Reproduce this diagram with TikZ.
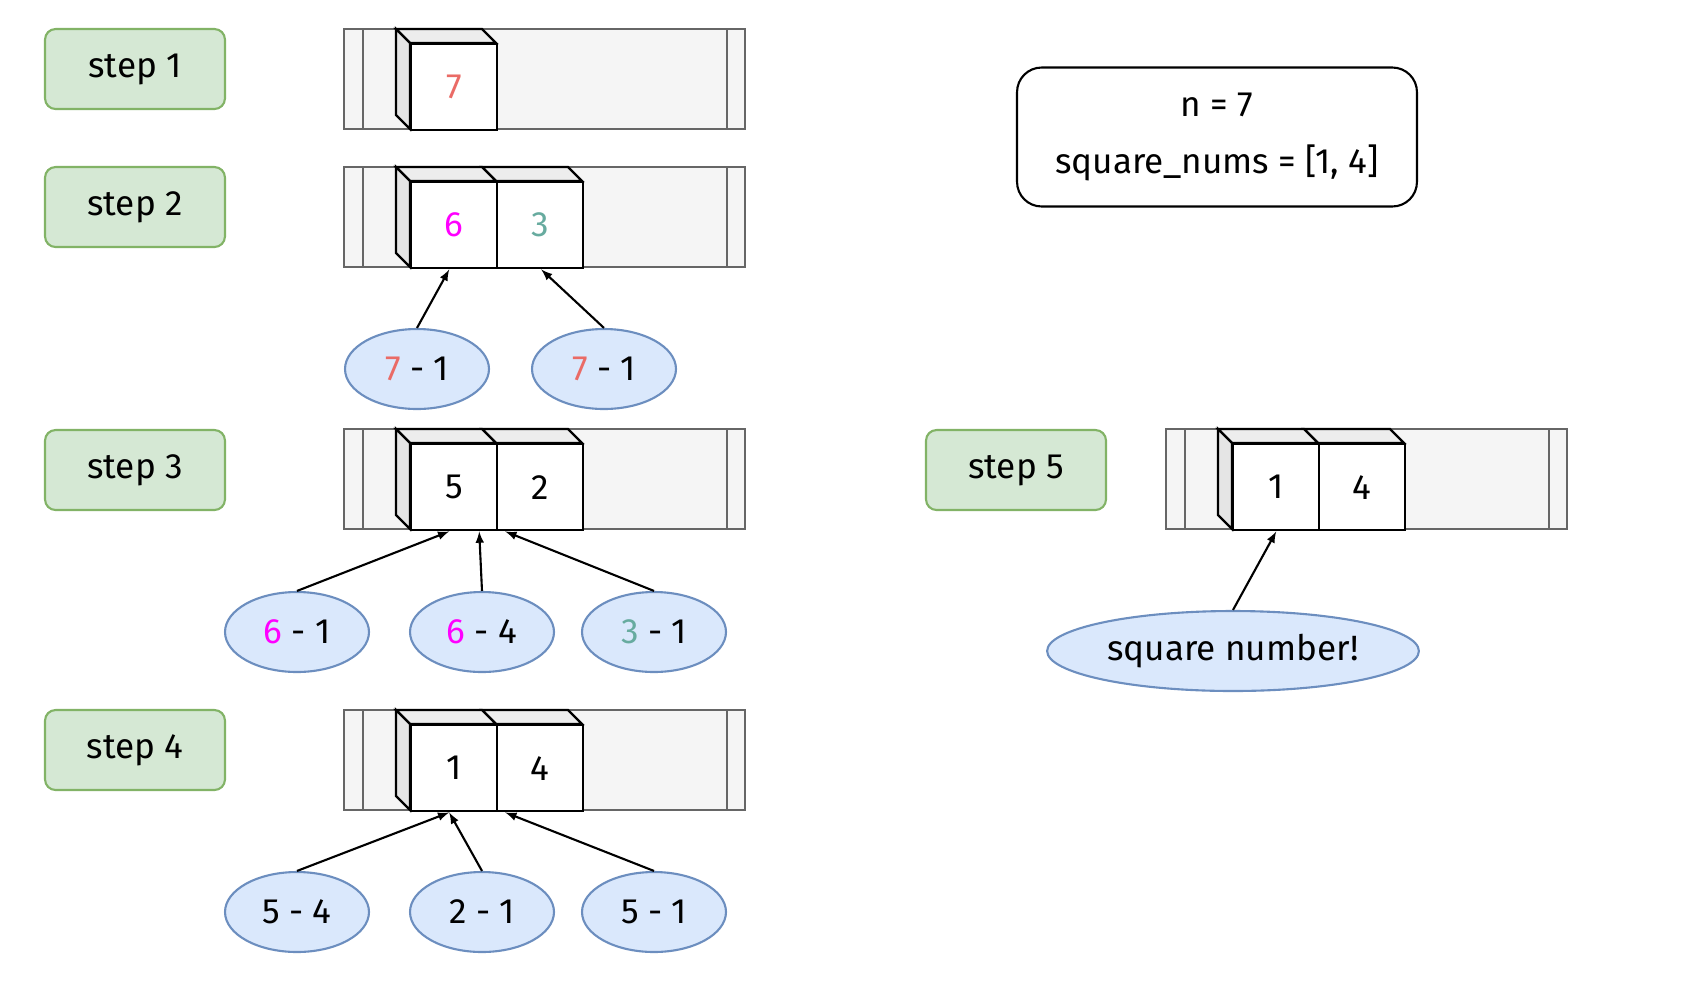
\documentclass[tikz,border=0pt]{standalone}
\usepackage{fontspec}
\setmainfont{Fira Sans}
\usetikzlibrary{shapes.geometric}
\definecolor{stepfill}{HTML}{D5E8D4}
\definecolor{stepdraw}{HTML}{82B366}
\definecolor{ovfill}{HTML}{DAE8FC}
\definecolor{ovdraw}{HTML}{6C8EBF}
\definecolor{barfill}{HTML}{F5F5F5}
\definecolor{bardraw}{HTML}{666666}
\definecolor{cred}{HTML}{EA6B66}
\definecolor{cmag}{HTML}{FF00FF}
\definecolor{cteal}{HTML}{67AB9F}

% bar with two inner lines, top-left at (#1,#2)
\newcommand{\stackbar}[2]{%
  \draw[bardraw, line width=1.2pt, fill=barfill] (#1,#2) rectangle ++(401,100);
  \draw[bardraw, line width=1.2pt] (#1+19,#2) -- ++(0,100) (#1+383,#2) -- ++(0,100);}
% top and side faces of a cube whose front starts at (#1,#2)
\newcommand{\cubeside}[2]{%
  \draw[line width=1.4pt, fill=black!7] (#1-14,#2-14) -- (#1+72,#2-14) -- (#1+86,#2) -- (#1,#2) -- cycle;
  \draw[line width=1.4pt, fill=black!10] (#1-14,#2-14) -- (#1,#2) -- (#1,#2+86) -- (#1-14,#2+72) -- cycle;}
\newcommand{\cubetop}[2]{%
  \draw[line width=1.4pt, fill=black!7] (#1-14,#2-14) -- (#1+72,#2-14) -- (#1+86,#2) -- (#1,#2) -- cycle;}

\begin{document}
\begin{tikzpicture}[x=0.02cm, y=-0.02cm, font=\fontsize{20}{24}\selectfont]

\tikzstyle{steplabel}=[rectangle, rounded corners=6pt, draw=stepdraw, fill=stepfill, line width=1.2pt, minimum width=3.6cm, minimum height=1.6cm]
\tikzstyle{front}=[rectangle, draw=black, fill=white, line width=1.4pt, minimum size=1.72cm, inner sep=0pt]
\tikzstyle{op}=[ellipse, draw=ovdraw, fill=ovfill, line width=1.2pt, minimum width=2.88cm, minimum height=1.6cm]
\tikzstyle{connect}=[-latex, line width=1.2pt]

\useasboundingbox (0,0) rectangle (1684,988);

\node[steplabel] (s1) at (135,69)  {step 1};
\node[steplabel] (s2) at (135,207) {step 2};
\node[steplabel] (s3) at (135,470) {step 3};
\node[steplabel] (s4) at (135,750) {step 4};
\node[steplabel] (s5) at (1016,470) {step 5};

\node[rectangle, rounded corners=14pt, draw=black, line width=1.2pt, minimum width=8cm, minimum height=2.78cm, align=center] (info) at (1217,137) {n = 7\\[8pt] square\_nums = [1, 4]};

% step 1
\stackbar{344}{29}
\cubeside{410}{43}
\node[front, anchor=north west] (c11) at (410,43) {\textcolor{cred}{7}};

% step 2
\stackbar{344}{167}
\cubetop{496}{181}
\cubeside{410}{181}
\node[front, anchor=north west] (c21) at (410,181) {\textcolor{cmag}{6}};
\node[front, anchor=north west] (c22) at (496,181) {\textcolor{cteal}{3}};

% step 3
\stackbar{344}{429}
\cubetop{496}{443}
\cubeside{410}{443}
\node[front, anchor=north west] (c31) at (410,443) {5};
\node[front, anchor=north west] (c32) at (496,443) {2};

% step 4
\stackbar{344}{710}
\cubetop{496}{724}
\cubeside{410}{724}
\node[front, anchor=north west] (c41) at (410,724) {1};
\node[front, anchor=north west] (c42) at (496,724) {4};

% step 5
\stackbar{1166}{429}
\cubetop{1318}{443}
\cubeside{1232}{443}
\node[front, anchor=north west] (c51) at (1232,443) {1};
\node[front, anchor=north west] (c52) at (1318,443) {4};

\node[op] (o21) at (417,369) {\textcolor{cred}{7} - 1};
\node[op] (o22) at (604,369) {\textcolor{cred}{7} - 1};
\node[op] (o31) at (297,632) {\textcolor{cmag}{6} - 1};
\node[op] (o32) at (482,632) {\textcolor{cmag}{6} - 4};
\node[op] (o33) at (654,632) {\textcolor{cteal}{3} - 1};
\node[op] (o41) at (297,912) {5 - 4};
\node[op] (o42) at (482,912) {2 - 1};
\node[op] (o43) at (654,912) {5 - 1};
\node[op, minimum width=6.8cm] (o51) at (1233,651) {square number!};

\path (o21.north) [connect] edge ([xshift=-0.1cm]c21.south);
\path (o22.north) [connect] edge ([xshift=0.02cm]c22.south);
\path (o31.north) [connect] edge ([xshift=-0.1cm]c31.south);
\path (o32.north) [connect] edge ([xshift=0.5cm]c31.south);
\path (o33.north) [connect] edge ([xshift=-0.7cm]c32.south);
\path (o41.north) [connect] edge ([xshift=-0.1cm]c41.south);
\path (o42.north) [connect] edge ([xshift=-0.1cm]c41.south);
\path (o43.north) [connect] edge ([xshift=-0.7cm]c42.south);
\path (o51.north) [connect] edge (c51.south);

\end{tikzpicture}
\end{document}
